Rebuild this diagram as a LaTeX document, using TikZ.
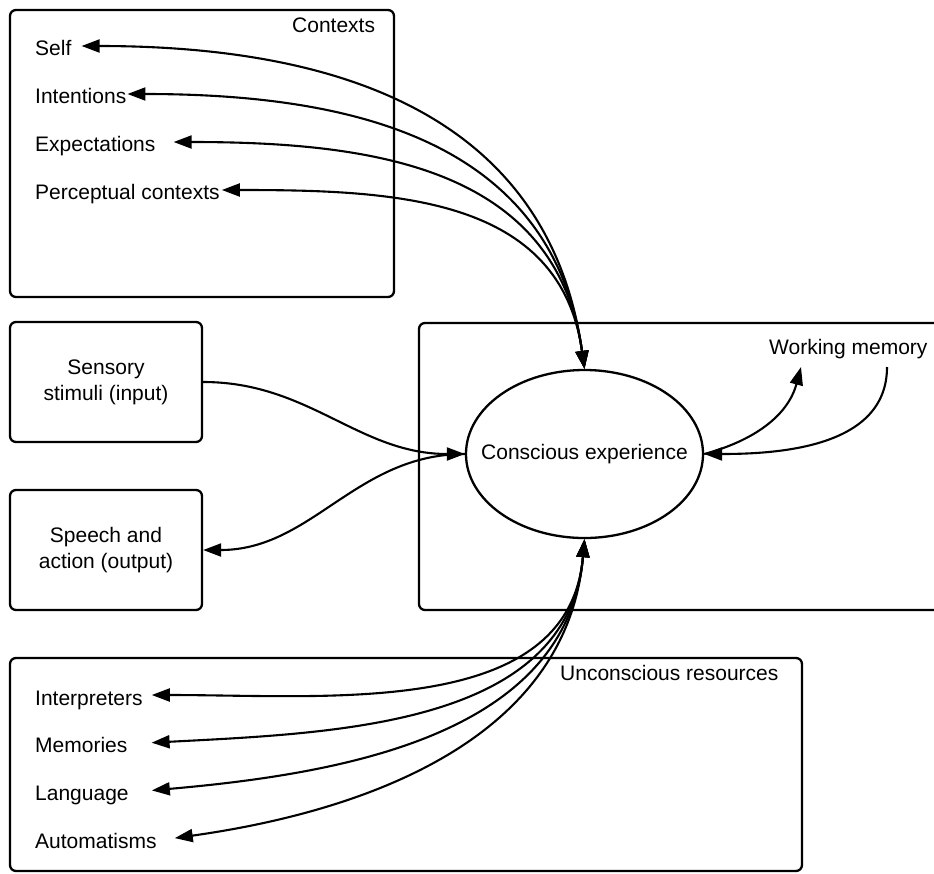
\documentclass[tikz,border=0pt]{standalone}
\usepackage{fontspec}
\setmainfont{Liberation Sans}
\usetikzlibrary{arrows.meta,shapes.geometric}

\def\framewidth{2.3pt}
\def\linkwidth{2.1pt}

\begin{document}
\begin{tikzpicture}[x=1pt, y=1pt,
    nodes = {font=\fontsize{21}{26}\selectfont},
    >={Triangle[length=18pt,width=13pt]},
    frame/.style={draw, line width=\framewidth, rounded corners=6pt, inner sep=0pt},
    item/.style={anchor=base west, inner sep=0pt},
    link/.style={line width=\linkwidth}]
  \useasboundingbox (0,0) rectangle (934,-873);

  % the boxes
  \node[frame, minimum width=384pt, minimum height=287pt] (ctx) at (202,-153.5) {};
  \node[frame, minimum width=792pt, minimum height=213pt] (res) at (406,-764.5) {};
  \node[frame, minimum width=531pt, minimum height=287pt] (wsp) at (684.5,-466.5) {};
  \node[frame, minimum width=192pt, minimum height=120pt, align=center]
    (sens) at (106,-382) {Sensory\\stimuli (input)};
  \node[frame, minimum width=192pt, minimum height=120pt, align=center]
    (speech) at (106,-550) {Speech and\\action (output)};

  \node[item] (ctxtitle) at (292,-32) {Contexts};
  \node[item] (restitle) at (560,-680) {Unconscious resources};
  \node[item] (wm) at (769,-354) {Working memory};
  \coordinate (wmin) at (801,-367);
  \coordinate (wmout) at (887,-367);

  \node[draw, ellipse, line width=\framewidth, minimum width=237pt,
    minimum height=168pt, inner sep=0pt] (ce) at (584.5,-454) {};
  \node (cetext) at (ce.center) {Conscious experience};

  % contexts, arrows into the top of the ellipse
  \foreach \i/\name/\gap in {
      0/Self/10,
      1/Intentions/1,
      2/Expectations/18,
      3/{Perceptual contexts}/2
    } {
      \node[item] (ctx-\i) at (35,-55-48*\i) {\name};
      \draw[link,<->] ([xshift=\gap pt,yshift=9pt]ctx-\i.base east)
        to[out=0,in=98,looseness=1.1] (ce.north);
    };

  % unconscious resources, arrows into the bottom
  \foreach \i/\name/\gap/\ang in {
      0/Interpreters/9/0,
      1/Memories/24/3,
      2/Language/23/5,
      3/Automatisms/18/8
    } {
      \node[item] (res-\i) at (35,-705-47.7*\i) {\name};
      \draw[link,<->] ([xshift=\gap pt,yshift=10pt]res-\i.base east)
        to[out=\ang,in=-95] (ce.south);
    };

  % input, output and working memory
  \draw[link,->] (sens.east) to[out=0,in=180] (ce.west);
  \draw[link,->] (ce.west) to[out=180,in=0] (speech.east);
  \draw[link,->] (ce.east) to[out=15,in=-105] (wmin);
  \draw[link,->] (wmout) to[out=-90,in=0] (ce.east);
\end{tikzpicture}
\end{document}
